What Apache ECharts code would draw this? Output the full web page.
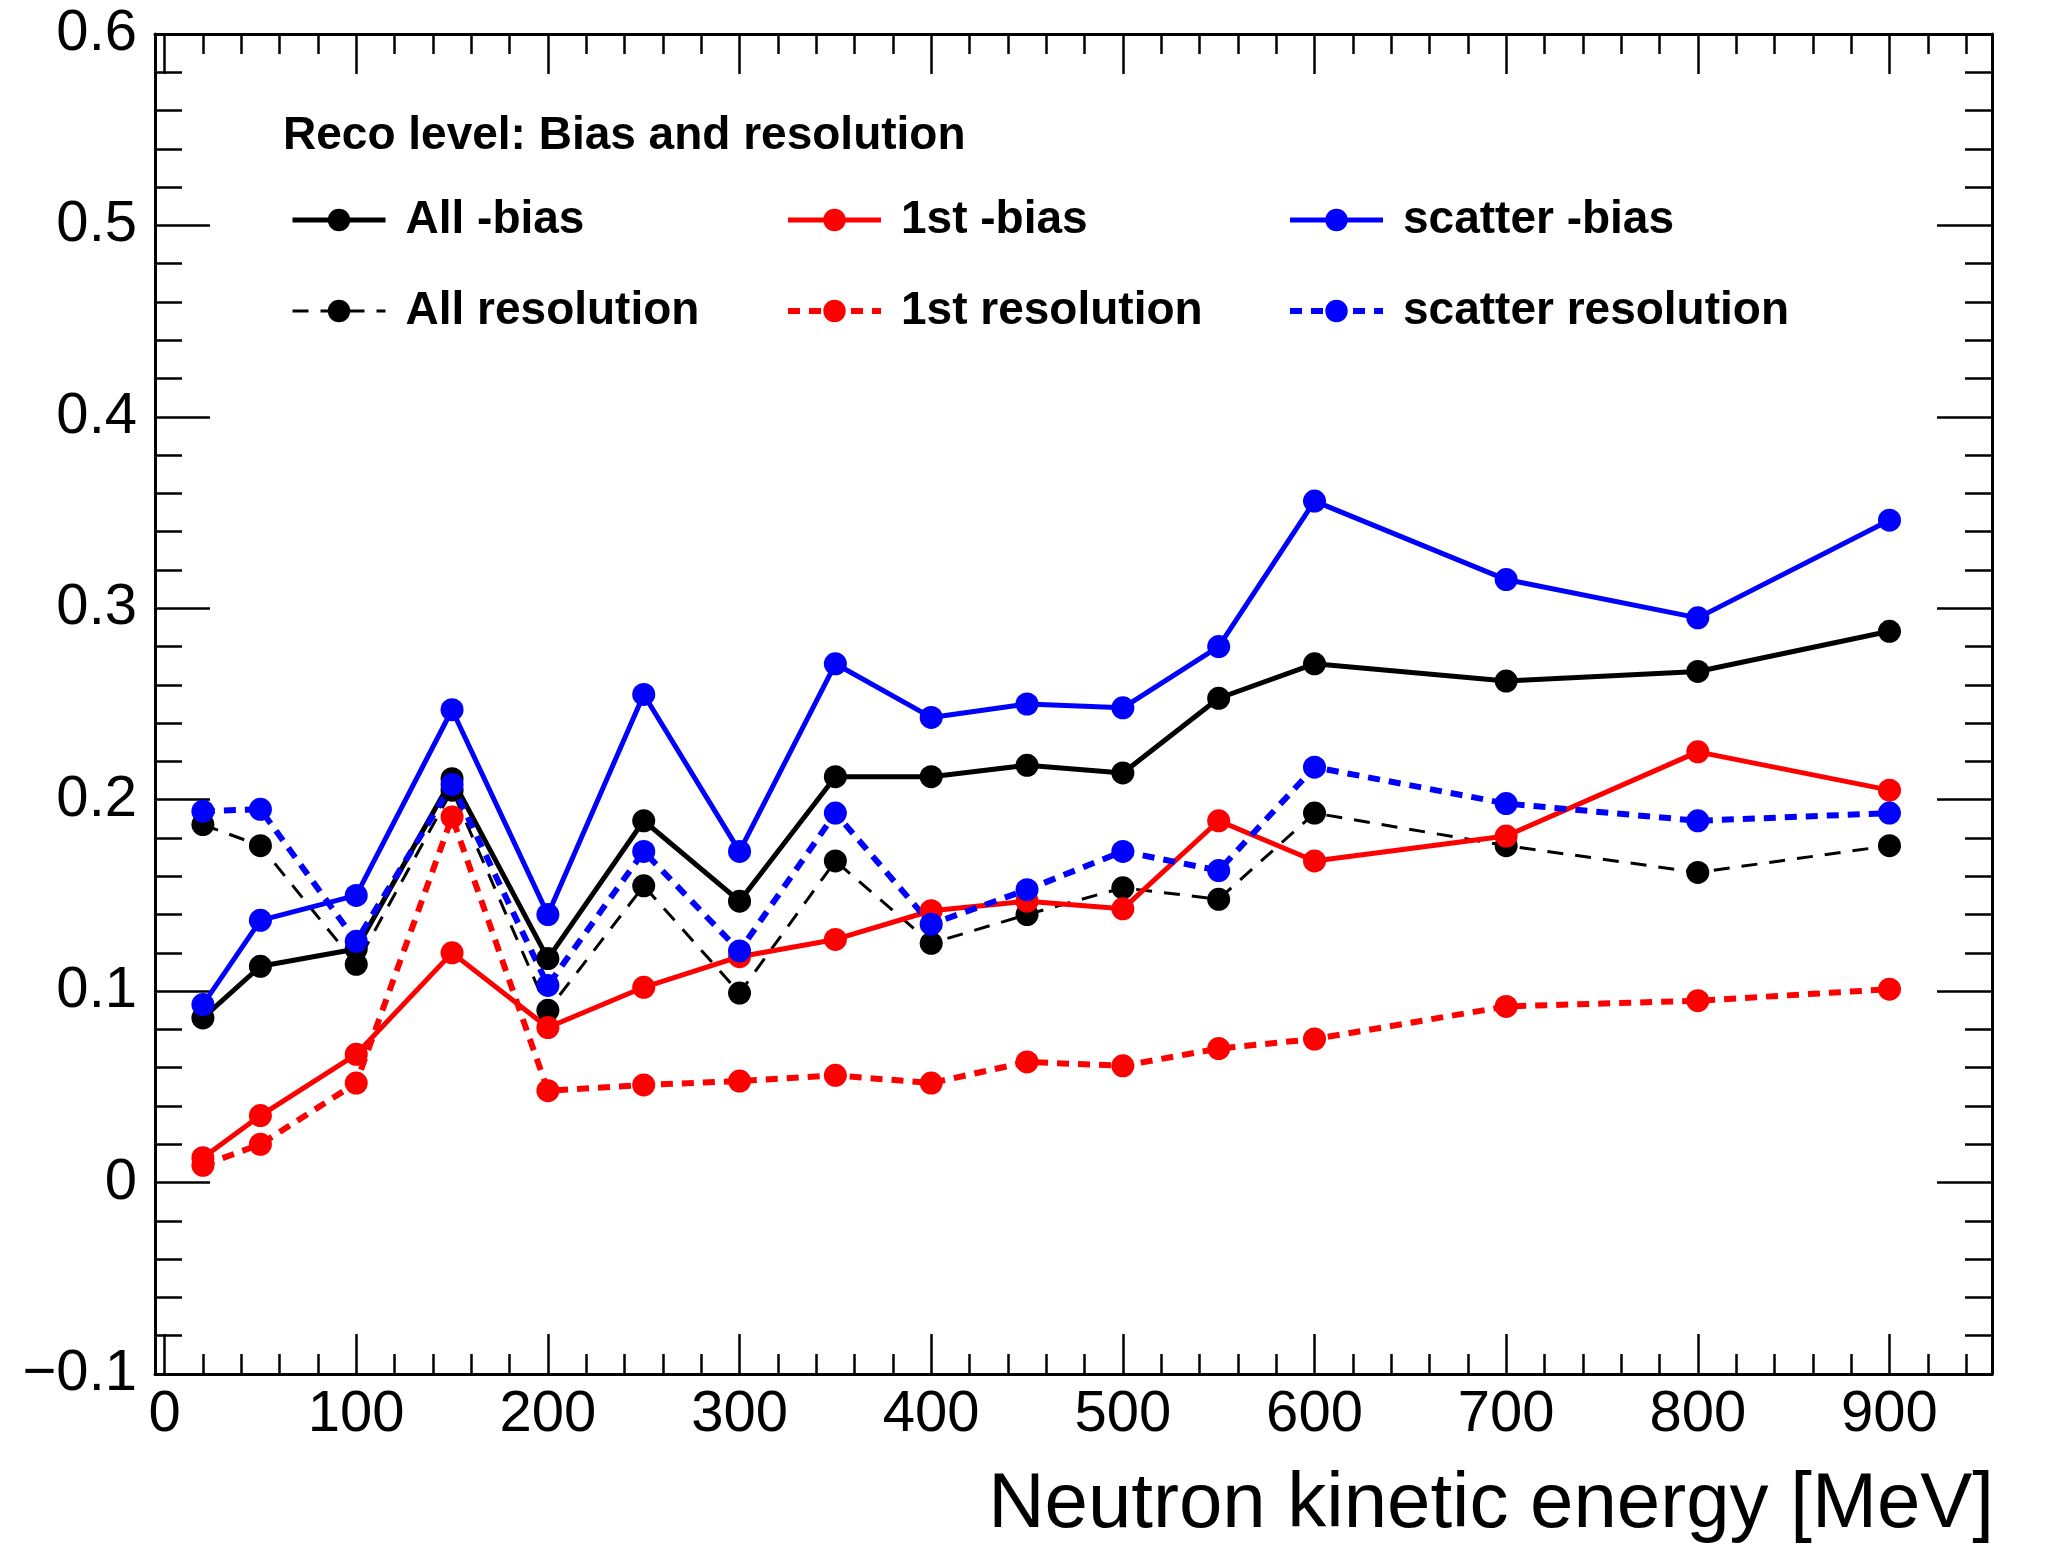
<!DOCTYPE html>
<html>
<head>
<meta charset="utf-8">
<script src="https://cdn.jsdelivr.net/npm/echarts@6/dist/echarts.min.js"></script>
<style>
	html, body { margin: 0; padding: 0; background: #fff; }
	#main { width: 2049px; height: 1547px; }
</style>
</head>
<body>
<div id="main"></div>
<script>
// neutron kinetic energy [MeV]
const energy = [20, 50, 100, 150, 200, 250, 300, 350, 400, 450, 500, 550, 600, 700, 800, 900];

const allBias = [0.086, 0.113, 0.122, 0.211, 0.117, 0.189, 0.147, 0.212, 0.212, 0.218, 0.214, 0.253, 0.271, 0.262, 0.267, 0.288];
const allRes = [0.187, 0.176, 0.114, 0.205, 0.090, 0.155, 0.099, 0.168, 0.125, 0.140, 0.154, 0.148, 0.193, 0.176, 0.162, 0.176];
const firstBias = [0.013, 0.035, 0.067, 0.120, 0.081, 0.102, 0.118, 0.127, 0.142, 0.147, 0.143, 0.189, 0.168, 0.181, 0.225, 0.205];
const firstRes = [0.009, 0.020, 0.052, 0.191, 0.048, 0.051, 0.053, 0.056, 0.052, 0.063, 0.061, 0.070, 0.075, 0.092, 0.095, 0.101];
const scatterBias = [0.093, 0.137, 0.150, 0.247, 0.140, 0.255, 0.173, 0.271, 0.243, 0.250, 0.248, 0.280, 0.356, 0.315, 0.295, 0.346];
const scatterRes = [0.194, 0.195, 0.126, 0.208, 0.103, 0.173, 0.121, 0.193, 0.135, 0.153, 0.173, 0.163, 0.217, 0.198, 0.189, 0.193];

// ticks
const xTicks = [0, 100, 200, 300, 400, 500, 600, 700, 800, 900];
const xTickLabels = ['0', '100', '200', '300', '400', '500', '600', '700', '800', '900'];
const yTickLabels = ['\u22120.1', '0', '0.1', '0.2', '0.3', '0.4', '0.5', '0.6'];

const xMinorTicks = [];
for (let v = 20; v < 955; v += 20) {
	if (v % 100 !== 0) xMinorTicks.push(v);
}

const font = 'Liberation Sans, Arial, Helvetica, sans-serif';
const X_MIN = -5, X_MAX = 953.5;

function pairs(ys) {
	return energy.map((x, i) => [x, ys[i]]);
}

function line(name, ys, color, width, type) {
	return {
		name: name,
		type: 'line',
		data: pairs(ys),
		symbol: 'circle',
		symbolSize: 23,
		showSymbol: true,
		showAllSymbol: true,
		itemStyle: { color: color },
		lineStyle: { color: color, width: width, type: type },
		emphasis: { disabled: true }
	};
}

function xAxis(position, ticks, len, showLine, showLabel) {
	return {
		type: 'value',
		position: position,
		min: X_MIN,
		max: X_MAX,
		splitLine: { show: false },
		axisLine: { show: showLine, onZero: false, lineStyle: { color: '#000', width: 3 } },
		axisTick: {
			show: true, inside: true, length: len, customValues: ticks,
			lineStyle: { color: '#000', width: 2.5 }
		},
		axisLabel: {
			show: showLabel, customValues: xTicks, margin: 12,
			fontSize: 58, fontFamily: font, color: '#000',
			formatter: function (v) {
				const i = xTicks.indexOf(Math.round(v));
				return i >= 0 ? xTickLabels[i] : '';
			}
		}
	};
}

function yAxis(position, showLabel) {
	return {
		type: 'value',
		position: position,
		min: -0.1,
		max: 0.6,
		interval: 0.1,
		splitLine: { show: false },
		axisLine: { show: true, onZero: false, lineStyle: { color: '#000', width: 3 } },
		axisTick: { show: true, inside: true, length: 55, lineStyle: { color: '#000', width: 2.5 } },
		minorTick: { show: true, splitNumber: 5, length: 27, lineStyle: { color: '#000', width: 2.5 } },
		minorSplitLine: { show: false },
		axisLabel: {
			show: showLabel, margin: 18,
			fontSize: 58, fontFamily: font, color: '#000',
			formatter: function (v) {
				const i = Math.round(v * 10) + 1;
				return yTickLabels[i] !== undefined ? yTickLabels[i] : '';
			}
		}
	};
}

const legendCommon = {
	orient: 'vertical',
	top: 197,
	padding: 0,
	itemWidth: 93,
	itemHeight: 28,
	itemGap: 45,
	selectedMode: false,
	lineStyle: { width: 'inherit' },
	textStyle: {
		fontSize: 46, fontWeight: 'bold', fontFamily: font, color: '#000',
		lineHeight: 28, padding: [0, 0, 0, 15]
	}
};

let myChart = echarts.init(document.getElementById('main'), null, { renderer: 'canvas' });

let option = {
	backgroundColor: '#fff',
	animation: false,
	title: [{
		text: 'Reco level: Bias and resolution',
		left: 283,
		top: 113,
		padding: 0,
		textStyle: { fontSize: 46, fontWeight: 'bold', fontFamily: font, color: '#000', lineHeight: 46 }
	}, {
		text: 'Neutron kinetic energy [MeV]',
		right: 55,
		top: 1466,
		padding: 0,
		textStyle: { fontSize: 78, fontWeight: 'normal', fontFamily: font, color: '#000', lineHeight: 78 }
	}],
	legend: [
		Object.assign({}, legendCommon, { left: 290, data: ['All -bias', 'All resolution'] }),
		Object.assign({}, legendCommon, { left: 785, data: ['1st -bias', '1st resolution'] }),
		Object.assign({}, legendCommon, { left: 1287, data: ['scatter -bias', 'scatter resolution'] })
	],
	grid: {
		left: 155,
		right: 57,
		top: 34,
		bottom: 173,
		containLabel: false
	},
	xAxis: [
		xAxis('bottom', xTicks, 40, true, true),
		xAxis('bottom', xMinorTicks, 20, false, false),
		xAxis('top', xTicks, 40, true, false),
		xAxis('top', xMinorTicks, 20, false, false)
	],
	yAxis: [
		yAxis('left', true),
		yAxis('right', false)
	],
	series: [
		line('All -bias', allBias, '#000000', 5, 'solid'),
		line('All resolution', allRes, '#000000', 3, [16, 12]),
		line('1st -bias', firstBias, '#ff0000', 5, 'solid'),
		line('1st resolution', firstRes, '#ff0000', 6, [12, 9]),
		line('scatter -bias', scatterBias, '#0000ff', 5, 'solid'),
		line('scatter resolution', scatterRes, '#0000ff', 6, [12, 9])
	]
};

myChart.setOption(option);
</script>
</body>
</html>
